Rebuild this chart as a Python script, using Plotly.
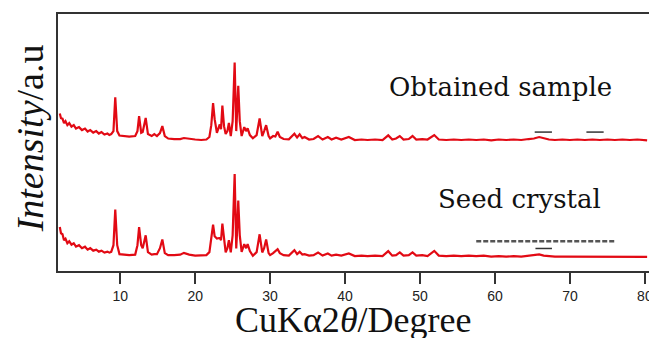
import plotly.graph_objects as go

# 2-theta positions (degrees) shared by both patterns
two_theta = [1.94, 2.1, 2.3, 2.5, 2.7, 2.95, 3.2, 3.5, 3.8, 4.1, 4.5, 4.9, 5.3, 5.65, 6.0, 6.4,
             6.8, 7.15, 7.5, 7.9, 8.3, 8.55, 8.8, 9.1, 9.34, 9.6, 9.9,
             10.5, 11.2, 12.0, 12.3, 12.52, 12.8, 13.0, 13.2, 13.4, 13.7, 14.2, 14.55, 14.9, 15.3,
             15.62, 15.95, 16.4, 17.2, 18.0, 18.5, 19.2, 20.0, 20.8, 21.5, 21.9, 22.15, 22.39, 22.6,
             22.9, 23.28, 23.45, 23.63, 23.85, 24.07, 24.3, 24.5, 24.75, 25.0, 25.27, 25.48, 25.6,
             25.75, 25.95, 26.2, 26.55, 26.8, 27.0, 27.3, 27.7, 28.2, 28.6, 28.95, 29.2, 29.47, 29.8,
             30.0, 30.4, 30.7, 31.0, 31.3, 31.8, 32.5, 33.24, 33.6, 33.94, 34.3, 34.6, 35.2, 35.8,
             36.4, 37.0, 37.7, 38.2, 38.8, 39.5, 40.5, 41.3, 42.2, 43.0, 44.0, 45.0, 45.76, 46.3,
             46.8, 47.3, 47.8, 48.5, 49.0, 49.5, 50.3, 51.0, 51.9, 52.5, 53.5, 54.5, 55.5, 56.5,
             57.5, 58.5, 59.5, 60.5, 61.5, 62.5, 63.5, 64.5, 65.2, 65.9, 66.5, 67.2, 68.0, 69.0,
             70.0, 71.0, 72.0, 73.0, 74.0, 75.0, 76.0, 77.0, 78.0, 79.0, 80.3]

# Obtained sample (offset pattern, arbitrary units)
obtained = [158.7, 154, 153.5, 149, 151, 147, 149, 145.5, 147, 143.5, 145, 142, 143.5, 140.5, 142, 139.5,
            141, 138.5, 140, 137.5, 138.5, 137, 138, 141, 175, 141, 136.5,
            136, 135.5, 136, 141, 156, 139.3, 140, 146, 154.3, 138, 136, 138, 136, 139,
            146, 136, 133.5, 133, 133, 134, 133, 132.5, 132, 132.5, 135, 147, 169.3, 153,
            139.3, 147.7, 143, 166.7, 146, 138, 141, 149.3, 136, 151, 210, 141, 161,
            186.7, 151, 136, 145, 141, 143.7, 137, 133.7, 137, 153.7, 136, 141, 147, 136,
            133.7, 136, 135.5, 140.3, 135, 133, 132.7, 138.3, 134.5, 137.7, 134, 135, 132.5, 133,
            136, 132.5, 135, 132.5, 134.3, 132.5, 135, 132, 132.5, 132, 132.5, 132, 136.7, 132.5,
            133.5, 136, 132.5, 133, 136, 132.5, 133, 132.5, 137, 132.5, 132, 132.5, 132, 132.5,
            132, 132.5, 131.7, 132.5, 132, 132.5, 132, 133, 133.5, 135, 133.5, 132.5, 132, 132.5,
            132, 132.5, 132, 132.5, 132, 132.5, 132, 132.5, 132, 132.5, 131.7]

# Seed crystal (arbitrary units)
seed = [44.3, 38, 37, 31, 32.5, 28, 30, 26.5, 28, 24.5, 26, 23, 24.5, 21.5, 23, 20.5,
        21.5, 19.5, 20.5, 18.5, 19.5, 18.5, 19.3, 26, 62, 26, 17,
        16.5, 16, 16.5, 26, 44.3, 26, 23, 29, 36, 19, 16.5, 17, 17, 23,
        31.7, 18, 16, 16, 16.5, 18.3, 16.5, 15.5, 15.5, 16, 19, 33, 46.7, 35,
        32.7, 33.3, 31, 47.7, 31, 18.7, 23, 31, 18.7, 36, 97.7, 22.7, 41,
        71, 36, 19.3, 27, 23, 27, 20, 15.3, 19, 37, 18.7, 23, 31.7, 18,
        16, 18, 20, 22, 18, 16, 15.5, 21, 17, 19.3, 16.5, 17, 15.5, 16,
        18.7, 15.5, 17.7, 15.5, 16.5, 15.5, 17.7, 15, 15.5, 15, 15.5, 15, 20, 15.5,
        16, 18.7, 15.5, 16, 18.7, 15.5, 16, 15, 20.3, 15.5, 15, 15.5, 15, 15.5,
        15, 15.5, 14.5, 15, 14.5, 15, 14.5, 15.5, 15.5, 16.7, 15.5, 15, 14.5, 14.5,
        14.5, 14.5, 14.5, 14.5, 14.5, 14.5, 14.5, 14.5, 14.5, 14.5, 14.3]

x_ticks = [10, 20, 30, 40, 50, 60, 70, 80]
labels = ["Obtained sample", "Seed crystal"]
label_x = [60.8, 63.3]
label_y = [185, 73]

# stray marks present in the source picture
dash_x0 = [65.3, 72.2, 65.4]
dash_x1 = [67.6, 74.5, 67.6]
dash_y = [140, 140, 22.7]

RED = "#e20a14"

fig = go.Figure()
fig.add_trace(go.Scatter(x=two_theta, y=obtained, mode="lines",
                         line=dict(color=RED, width=2.2), showlegend=False))
fig.add_trace(go.Scatter(x=two_theta, y=seed, mode="lines",
                         line=dict(color=RED, width=2.2), showlegend=False))

for t, xx, yy in zip(labels, label_x, label_y):
    fig.add_annotation(x=xx, y=yy, text=t, showarrow=False, xanchor="center", yanchor="middle",
                       font=dict(family="DejaVu Serif", size=26, color="#111"))

for a, b, c in zip(dash_x0, dash_x1, dash_y):
    fig.add_shape(type="line", x0=a, x1=b, y0=c, y1=c, line=dict(color="#333", width=1.5))
fig.add_shape(type="line", x0=57.5, x1=76.0, y0=30, y1=30,
              line=dict(color="#555", width=2.5, dash="5px,2px"))

fig.add_annotation(xref="paper", yref="paper", x=-0.047, y=0.517, textangle=-90,
                   xanchor="center", yanchor="middle",
                   text="<i>Intensity</i>/a.u", showarrow=False,
                   font=dict(family="Liberation Serif", size=38, color="#111"))
fig.add_annotation(xref="paper", yref="paper", x=0.5, y=-0.19,
                   xanchor="center", yanchor="middle",
                   text="CuKα2<i>θ</i>/Degree", showarrow=False,
                   font=dict(family="Liberation Serif", size=36, color="#111"))

# page body has an 8px margin, so the figure is sized and padded to fill the 657x338 view
fig.update_layout(
    width=649, height=330,
    margin=dict(l=50, r=5, t=4, b=67),
    paper_bgcolor="white", plot_bgcolor="white",
    xaxis=dict(range=[1.7, 80.55], tickvals=x_ticks, ticks="outside", ticklen=11,
               tickcolor="#333", tickwidth=1.5, showgrid=False, zeroline=False,
               showline=True, linecolor="#333", linewidth=1.5, mirror=True,
               tickfont=dict(family="Liberation Sans", size=14, color="#222")),
    yaxis=dict(range=[0, 259], showticklabels=False, ticks="", showgrid=False,
               zeroline=False, showline=True, linecolor="#333", linewidth=1.5, mirror=True),
)

fig.write_html("out.html")
